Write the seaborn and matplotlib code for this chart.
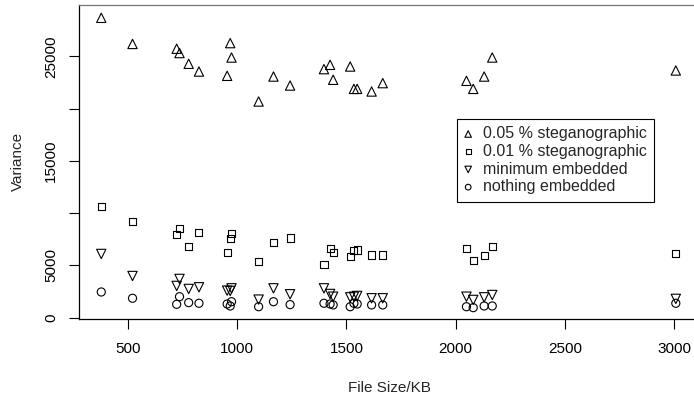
import matplotlib
matplotlib.use("Agg")
import matplotlib.pyplot as plt
import seaborn as sns
import pandas as pd

# file sizes (KB) of the test images
file_size = [378, 521, 723, 736, 778, 825, 954, 968, 974, 1098, 1166, 1242, 1397,
             1425, 1439, 1517, 1534, 1549, 1615, 1666, 2049, 2080, 2130, 2167, 3007]

# variance for each embedding level
var_005 = [28700, 26200, 25740, 25330, 24300, 23560, 23150, 26280, 24900, 20690, 23080, 22220, 23790,
           24200, 22770, 24040, 21900, 21900, 21650, 22450, 22670, 21900, 23080, 24900, 23660]
var_001 = [10630, 9230, 7920, 8560, 6800, 8140, 6230, 7570, 8080, 5340, 7190, 7630, 5050,
           6650, 6230, 5840, 6390, 6480, 6000, 6000, 6650, 5430, 5940, 6800, 6100]
var_min = [6100, 3990, 3040, 3710, 2750, 2910, 2590, 2560, 2810, 1730, 2810, 2240, 2810,
           2270, 2010, 1950, 2010, 2080, 1860, 1860, 2010, 1700, 1950, 2170, 1800]
var_none = [2460, 1860, 1280, 2010, 1440, 1380, 1310, 1120, 1530, 1050, 1530, 1250, 1380,
            1310, 1220, 1050, 1380, 1310, 1220, 1220, 1050, 960, 1120, 1120, 1380]

series = [
    ("0.05 % steganographic", var_005, "^", 45),
    ("0.01 % steganographic", var_001, "s", 26),
    ("minimum embedded", var_min, "v", 45),
    ("nothing embedded", var_none, "o", 34),
]

sns.set_style("ticks")
plt.rcParams["font.family"] = ["Liberation Sans", "DejaVu Sans"]
plt.rcParams["font.size"] = 11

fig = plt.figure(figsize=(6.94, 3.98), dpi=100)
ax = fig.add_axes([0.1138, 0.1997, 0.894, 0.787])

for label, vals, marker, size in series:
    df = pd.DataFrame({"size": file_size, "var": vals})
    sns.scatterplot(data=df, x="size", y="var", marker=marker, s=size,
                    facecolors="none", edgecolor="black", linewidth=0.8,
                    label=label, ax=ax)

ax.set_xlim(276, 3115)
ax.set_ylim(-80, 29900)
ax.set_xticks([500, 1000, 1500, 2000, 2500, 3000])
ax.set_yticks([0, 5000, 10000, 15000, 20000, 25000])
ax.set_yticklabels(["0", "5000", "", "15000", "", "25000"], rotation=90, va="center")
ax.tick_params(axis="both", direction="out", length=7, width=0.8, color="black",
               labelsize=11, labelcolor="black")
ax.tick_params(axis="x", pad=10)
ax.tick_params(axis="y", pad=8)

ax.set_xlabel("File Size/KB", fontsize=11, labelpad=18)
ax.set_ylabel("Variance", fontsize=11, labelpad=14)

for side in ["left", "bottom"]:
    ax.spines[side].set_color("black")
    ax.spines[side].set_linewidth(0.9)
ax.spines["top"].set_color("#777777")
ax.spines["top"].set_linewidth(0.9)
ax.spines["right"].set_visible(False)

leg = ax.legend(loc="upper left", bbox_to_anchor=(457 / 694, 1 - 119 / 398),
                bbox_transform=fig.transFigure, borderaxespad=0, frameon=True,
                fancybox=False, edgecolor="black", framealpha=1, markerscale=0.7,
                handlelength=0.5, handletextpad=0.65, labelspacing=0.17,
                borderpad=0.45, fontsize=11.5)
leg.get_frame().set_linewidth(0.8)

fig.savefig("out.png", dpi=100)
